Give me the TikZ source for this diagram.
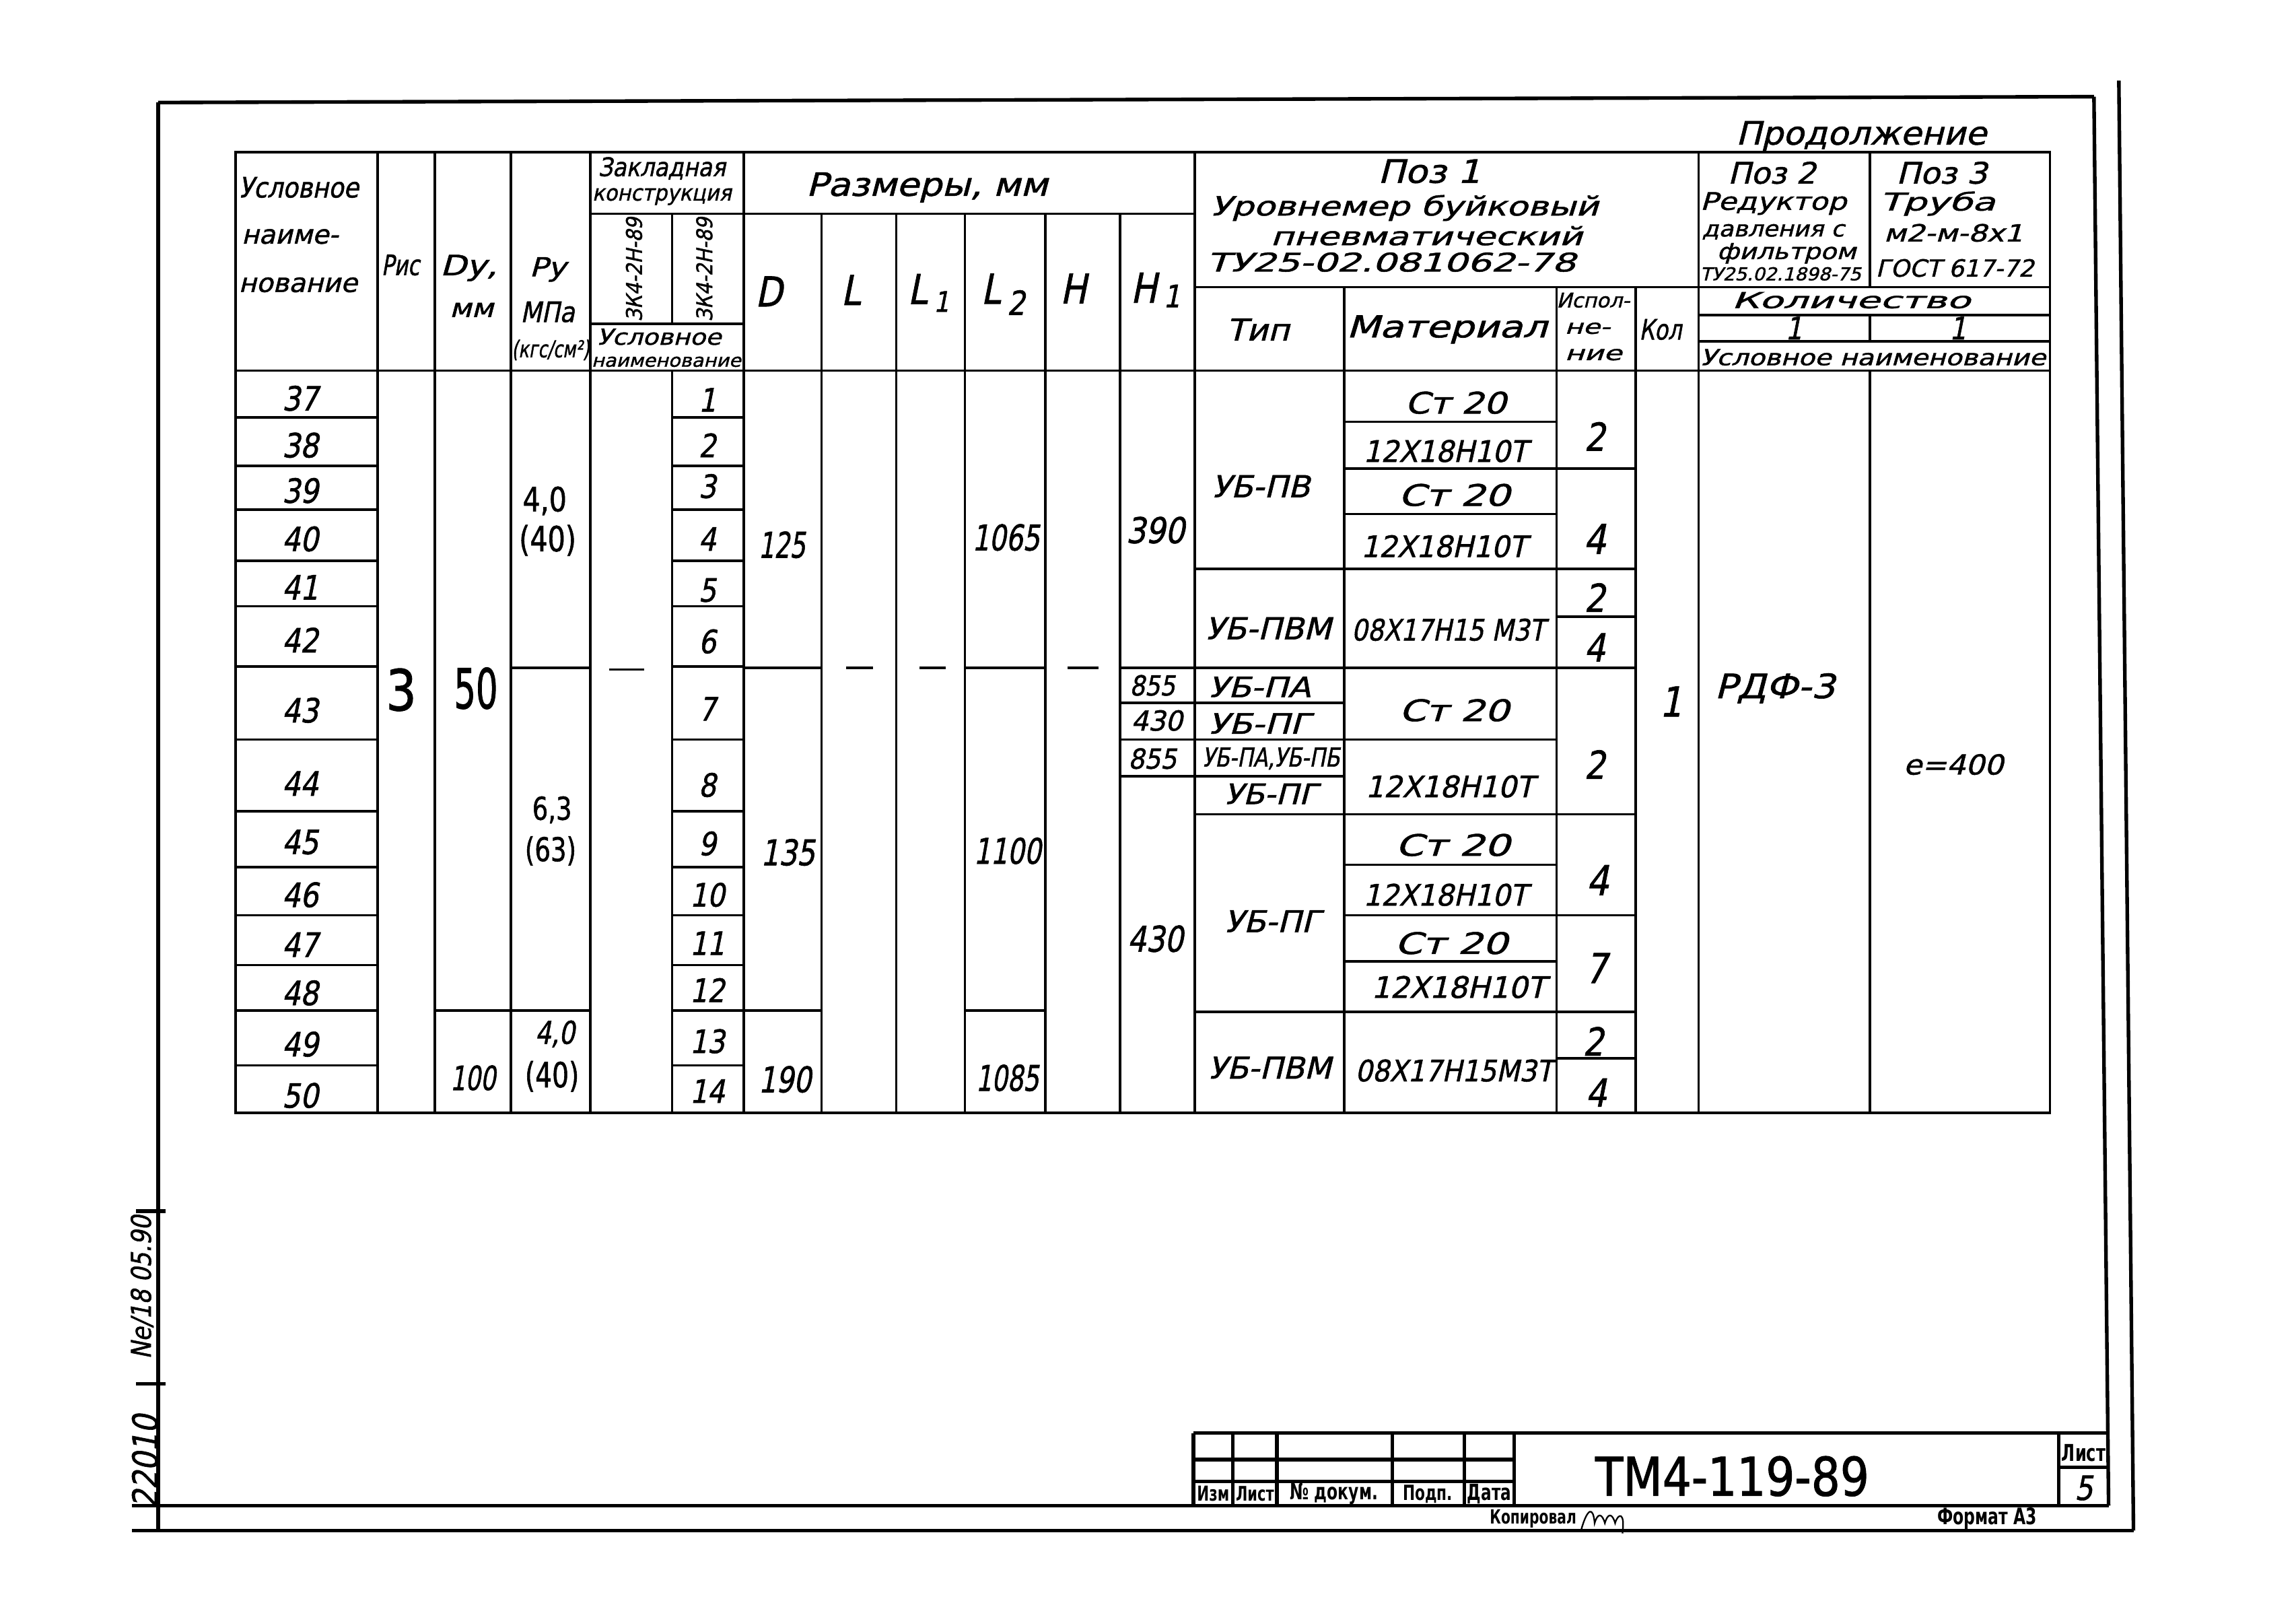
\documentclass[tikz,border=0pt]{standalone}
\usepackage{fontspec}
\usepackage{graphicx}
\newfontfamily\gi{DejaVu Sans}[FakeSlant=0.2,FakeStretch=0.85,FakeBold=1.2]
\newfontfamily\gu{DejaVu Sans}[FakeStretch=0.85,FakeBold=1.2]
\newfontfamily\gb{DejaVu Sans}[FakeStretch=0.7]
\newlength\pxu \setlength\pxu{0.2mm}
\newcommand\rw[2]{\resizebox{#1\pxu}{!}{#2}}
\newcommand\rwh[3]{\resizebox{#1\pxu}{#2\pxu}{\vphantom{Ш1}#3}}
\newcommand\fz[1]{\fontsize{#1}{#1}\selectfont}
\begin{document}
\begin{tikzpicture}[x=0.2mm,y=-0.2mm,
  tl/.style={line width=0.95pt},
  fl/.style={line width=1.4pt},
  dl/.style={line width=0.8pt},
  t/.style={inner sep=0pt,outer sep=0pt,font=\gi\fz{12}},
  tu/.style={inner sep=0pt,outer sep=0pt,font=\gu\fz{12}},
  tb/.style={inner sep=0pt,outer sep=0pt,font=\gb\bfseries\fz{8}}]
\useasboundingbox (0,0) rectangle (1568,1097);
\fill[white] (0,0) rectangle (1568,1097);

% ---------- sheet frame ----------
\draw[fl] (108,70) -- (1430,66);
\draw[fl] (108,70) -- (108,1045);
\draw[fl] (1430,66) -- (1440,1028);
\draw[fl] (90,1028) -- (1440,1028);
\draw[fl] (1447,55) -- (1457,1045);
\draw[fl] (90,1045) -- (1457,1045);
\draw[fl] (93,827) -- (113,827);
\draw[fl] (93,945) -- (113,945);

% ---------- table grid ----------
\draw[tl] (161,104) rectangle (1400,760);
\draw[tl] (161,253) -- (1400,253);
\foreach \x in {258,297,349,403,508,816,1160} \draw[tl] (\x,104) -- (\x,760);
\foreach \x in {561,612,659,714,765} \draw[tl] (\x,146) -- (\x,760);
\draw[tl] (459,146) -- (459,221);
\draw[tl] (459,253) -- (459,760);
\foreach \x in {918,1063,1117} \draw[tl] (\x,196) -- (\x,760);
\draw[tl] (1277,104) -- (1277,196);
\draw[tl] (1277,215) -- (1277,233);
\draw[tl] (1277,253) -- (1277,760);
% header horizontals
\draw[tl] (403,146) -- (816,146);
\draw[tl] (403,221) -- (508,221);
\draw[tl] (816,196) -- (1400,196);
\draw[tl] (1160,215) -- (1400,215);
\draw[tl] (1160,233) -- (1400,233);
% body horizontals
\foreach \y in {285,318,348,383,414,455,505,554,592,625,659,690,727.5} {
  \draw[tl] (161,\y) -- (258,\y);
  \draw[tl] (459,\y) -- (508,\y);
}
\draw[tl] (349,456) -- (403,456);
\draw[tl] (297,690) -- (403,690);
\draw[tl] (508,456) -- (561,456);
\draw[tl] (508,690) -- (561,690);
\draw[tl] (659,456) -- (714,456);
\draw[tl] (659,690) -- (714,690);
\draw[tl] (765,456) -- (1117,456);
\draw[tl] (765,480) -- (918,480);
\draw[tl] (765,505) -- (1063,505);
\draw[tl] (765,530) -- (918,530);
\draw[tl] (816,556) -- (1117,556);
\draw[tl] (816,388.5) -- (1117,388.5);
\draw[tl] (918,288) -- (1063,288);
\draw[tl] (918,320) -- (1117,320);
\draw[tl] (918,351) -- (1063,351);
\draw[tl] (1063,421) -- (1117,421);
\draw[tl] (918,590.5) -- (1063,590.5);
\draw[tl] (918,625) -- (1117,625);
\draw[tl] (918,656.3) -- (1063,656.3);
\draw[tl] (816,690.8) -- (1117,690.8);
\draw[tl] (1063,722.5) -- (1117,722.5);
% dashes
\draw[dl] (416,457) -- (440,457);
\draw[dl] (578,456) -- (596,456);
\draw[dl] (628,456) -- (646,456);
\draw[dl] (729,456) -- (750,456);

% ---------- header texts ----------
\node[t] (prod) at (1271,93) {\rwh{171}{16}{Продолжение}};
\node[t,anchor=west] (hu1) at (163,128) {\rwh{82}{14}{Условное}};
\node[t,anchor=west] (hu2) at (165,160) {\rwh{66}{13}{наиме-}};
\node[t,anchor=west] (hu3) at (163,193) {\rwh{81}{13}{нование}};
\node[t] (hris) at (273.5,181) {\rwh{26}{14}{Рис}};
\node[t] (hdy) at (320,183) {\rwh{39}{14}{Dу,}};
\node[t] (hmm) at (322,210) {\rwh{30}{13}{мм}};
\node[t] (hpy) at (374,184) {\rwh{25}{13}{Ру}};
\node[t] (hmpa) at (374,213) {\rwh{37}{14}{МПа}};
\node[t] (hkgs) at (376,239) {\rwh{53}{12}{(кгс/см²)}};
\node[t] (hz1) at (452,115) {\rwh{87}{13}{Закладная}};
\node[t] (hz2) at (452,133) {\rwh{95}{11}{конструкция}};
\node[t,rotate=90] (hz3) at (433,184) {\rwh{71}{11}{ЗК4-2Н-89}};
\node[t,rotate=90] (hz4) at (481,184) {\rwh{71}{11}{ЗК4-2Н-89}};
\node[t] (hz5) at (450,230) {\rwh{85}{11}{Условное}};
\node[t] (hz6) at (455,246) {\rwh{102}{9}{наименование}};
\node[t] (hraz) at (633,128) {\rwh{165}{16}{Размеры, мм}};
\node[t] (hD) at (525,199) {\fz{16}D};
\node[t] (hL) at (581,198) {\fz{16}L};
\node[t] (hL1) at (634,200) {\fz{16}L\kern2.5pt\raisebox{-0.35ex}{\fz{11}1}};
\node[t] (hL2) at (685,201) {\fz{16}L\kern2.5pt\raisebox{-0.5ex}{\fz{13}2}};
\node[t] (hH) at (733,197) {\fz{16}H};
\node[t] (hH1) at (789,198) {\fz{16}H\kern2.5pt\raisebox{-0.2ex}{\fz{12}1}};
\node[t] (p1a) at (976,117) {\rwh{70}{16}{Поз 1}};
\node[t] (p1b) at (959,142) {\rwh{265}{14}{Уровнемер буйковый}};
\node[t] (p1c) at (974,161) {\rwh{213}{13}{пневматический}};
\node[t] (p1d) at (950,179) {\rwh{252}{13}{ТУ25-02.081062-78}};
\node[t] (p2a) at (1210,118) {\rwh{60}{15}{Поз 2}};
\node[t] (p2b) at (1211,139) {\rwh{100}{12}{Редуктор}};
\node[t] (p2c) at (1211,157) {\rwh{97}{11}{давления с}};
\node[t] (p2d) at (1220,173) {\rwh{95}{11}{фильтром}};
\node[t] (p2e) at (1216,187) {\rwh{110}{9}{ТУ25.02.1898-75}};
\node[t] (p3a) at (1326,118) {\rwh{62}{15}{Поз 3}};
\node[t] (p3b) at (1323,139) {\rwh{79}{13}{Труба}};
\node[t] (p3c) at (1334,159) {\rwh{95}{12}{м2-м-8х1}};
\node[t] (p3d) at (1335,183) {\rwh{108}{12}{ГОСТ 617-72}};
\node[t] (htip) at (859,225) {\rwh{43}{15}{Тип}};
\node[t] (hmat) at (988,225) {\rwh{137}{15}{Материал}};
\node[t] (his1) at (1088,205) {\rwh{50}{10}{Испол-}};
\node[t] (his2) at (1084,223) {\rwh{31}{10}{не-}};
\node[t] (his3) at (1088,241) {\rwh{39}{10}{ние}};
\node[t] (hkol) at (1134,225) {\rwh{29}{14}{Кол}};
\node[t] (hkolv) at (1264,205) {\rwh{163}{11}{Количество}};
\node[t] (hq1) at (1225,224) {\fz{12}1};
\node[t] (hq2) at (1337,224) {\fz{12}1};
\node[t] (hun) at (1279,244) {\rwh{236}{11}{Условное наименование}};

% ---------- body texts ----------
\foreach \n/\y in {37/272,38/304,39/335,40/368,41/401,42/437,43/485,44/535,45/575,46/611,47/645,48/678,49/713,50/748}
  \node[t,font=\gi\fz{13}] (n\n) at (205,\y) {\n};
\foreach \n/\y in {1/273,2/304,3/332,4/368,5/403,6/438,7/484,8/536,9/576,10/611,11/644,12/676,13/711,14/745}
  \node[t,font=\gi\fz{12.5}] (k\n) at (483,\y) {\n};
\node[tu,font=\gu\fz{22}] (ris) at (274,471) {3};
\node[tu] (dy50) at (325,470) {\rwh{30}{28}{50}};
\node[t] (dy100) at (323,736) {\rwh{31}{17}{100}};
\node[tu] (pa1) at (372,342) {\rwh{30}{17}{4,0}};
\node[tu] (pa2) at (374,369) {\rwh{39}{18}{(40)}};
\node[tu] (pb1) at (377,553) {\rwh{27}{16}{6,3}};
\node[tu] (pb2) at (376,581) {\rwh{35}{17}{(63)}};
\node[t] (pc1) at (379,706) {\rwh{27}{16}{4,0}};
\node[tu] (pc2) at (377,735) {\rwh{37}{18}{(40)}};
\node[t] (d1) at (534,372) {\rwh{32}{18}{125}};
\node[t] (d2) at (538,582) {\rwh{37}{18}{135}};
\node[t] (d3) at (536,737) {\rwh{36}{18}{190}};
\node[t] (l1) at (687,367) {\rwh{46}{18}{1065}};
\node[t] (l2) at (688,581) {\rwh{46}{18}{1100}};
\node[t] (l3) at (688,736) {\rwh{43}{18}{1085}};
\node[t] (h1) at (789,362) {\rwh{40}{18}{390}};
\node[t] (h2) at (787,468) {\rwh{31}{14}{855}};
\node[t] (h3) at (790,492) {\rwh{35}{14}{430}};
\node[t] (h4) at (787,518) {\rwh{33}{14}{855}};
\node[t] (h5) at (789,641) {\rwh{38}{18}{430}};
% type / material
\node[t] (ty1) at (861,332) {\rwh{67}{15}{УБ-ПВ}};
\node[t] (m1) at (994,275) {\rwh{69}{15}{Ст 20}};
\node[t] (m2) at (987,308) {\rwh{112}{15}{12Х18Н10Т}};
\node[t] (m3) at (993,338) {\rwh{76}{15}{Ст 20}};
\node[t] (m4) at (986,373) {\rwh{113}{15}{12Х18Н10Т}};
\node[t,font=\gi\fz{15}] (e1) at (1089,298) {2};
\node[t,font=\gi\fz{16}] (e2) at (1089,368) {4};
\node[t] (ty2) at (866,429) {\rwh{86}{15}{УБ-ПВМ}};
\node[t] (m5) at (989,430) {\rwh{132}{15}{08Х17Н15 М3Т}};
\node[t,font=\gi\fz{15}] (e3) at (1089,408) {2};
\node[t,font=\gi\fz{15}] (e4) at (1089,442) {4};
\node[t] (ty3) at (860,469) {\rwh{70}{14}{УБ-ПА}};
\node[t] (ty4) at (860,494) {\rwh{70}{14}{УБ-ПГ}};
\node[t] (m6) at (993,485) {\rwh{75}{15}{Ст 20}};
\node[t] (ty5) at (868,518) {\rwh{94}{13}{УБ-ПА,УБ-ПБ}};
\node[t] (ty6) at (868,542) {\rwh{64}{14}{УБ-ПГ}};
\node[t] (m7) at (990,537) {\rwh{115}{15}{12Х18Н10Т}};
\node[t,font=\gi\fz{15}] (e5) at (1089,522) {2};
\node[t] (m8) at (992,577) {\rwh{78}{15}{Ст 20}};
\node[t] (m9) at (987,611) {\rwh{112}{15}{12Х18Н10Т}};
\node[t] (m10) at (991,644) {\rwh{77}{15}{Ст 20}};
\node[t] (m11) at (996,674) {\rwh{119}{15}{12Х18Н10Т}};
\node[t,font=\gi\fz{16}] (e6) at (1091,601) {4};
\node[t,font=\gi\fz{16}] (e7) at (1090,661) {7};
\node[t] (ty7) at (869,629) {\rwh{66}{15}{УБ-ПГ}};
\node[t] (ty8) at (867,729) {\rwh{84}{15}{УБ-ПВМ}};
\node[t] (m12) at (993,731) {\rwh{135}{15}{08Х17Н15М3Т}};
\node[t,font=\gi\fz{15}] (e8) at (1088,711) {2};
\node[t,font=\gi\fz{15}] (e9) at (1090,746) {4};
\node[t,font=\gi\fz{16}] (kol1) at (1141,479) {1};
\node[t,anchor=west] (rdf) at (1171,470) {\rwh{82}{17}{РДФ-3}};
\node[t] (e400) at (1334,522) {\rwh{68}{14}{е=400}};

% ---------- title block ----------
\draw[fl] (815,978.5) -- (1440,978.5);
\foreach \x in {815,842,872,951,1000,1034,1406} \draw[fl] (\x,978.5) -- (\x,1028);
\draw[fl] (815,996.6) -- (1034,996.6);
\draw[fl] (815,1011.5) -- (1034,1011.5);
\draw[fl] (1406,1002) -- (1440,1002);
\node[tb] (tbi) at (828.5,1020) {\rw{22}{Изм}};
\node[tb] (tbl) at (857,1020) {\rw{26}{Лист}};
\node[tb] (tbn) at (911,1020) {\rw{60}{№ докум.}};
\node[tb] (tbp) at (975,1020) {\rw{34}{Подп.}};
\node[tb] (tbd) at (1017,1020) {\rw{30}{Дата}};
\node[tu] (doc) at (1183,1008) {\rwh{187}{27}{ТМ4-119-89}};
\node[tb] (tbls) at (1423,992) {\rw{30}{Лист}};
\node[t,font=\gi\fz{13}] (tb5) at (1423,1016) {5};
\node[tb] (kop) at (1047,1037) {\rw{59}{Копировал}};
\node[tb] (fmt) at (1357,1037) {\rw{68}{Формат А3}};
\draw[line width=0.6pt] (1080,1044) .. controls (1084,1030) and (1088,1028) .. (1089,1040)
  .. controls (1091,1033) and (1094,1033) .. (1096,1040)
  .. controls (1098,1033) and (1101,1033) .. (1103,1040)
  .. controls (1105,1033) and (1110,1032) .. (1108,1047);

% ---------- margin stamp ----------
\node[t,rotate=90] (st1) at (97,879) {\rw{98}{Ne/18 05.90}};
\node[t,rotate=90] (st2) at (99,998) {\rw{64}{22010}};
\end{tikzpicture}
\end{document}
